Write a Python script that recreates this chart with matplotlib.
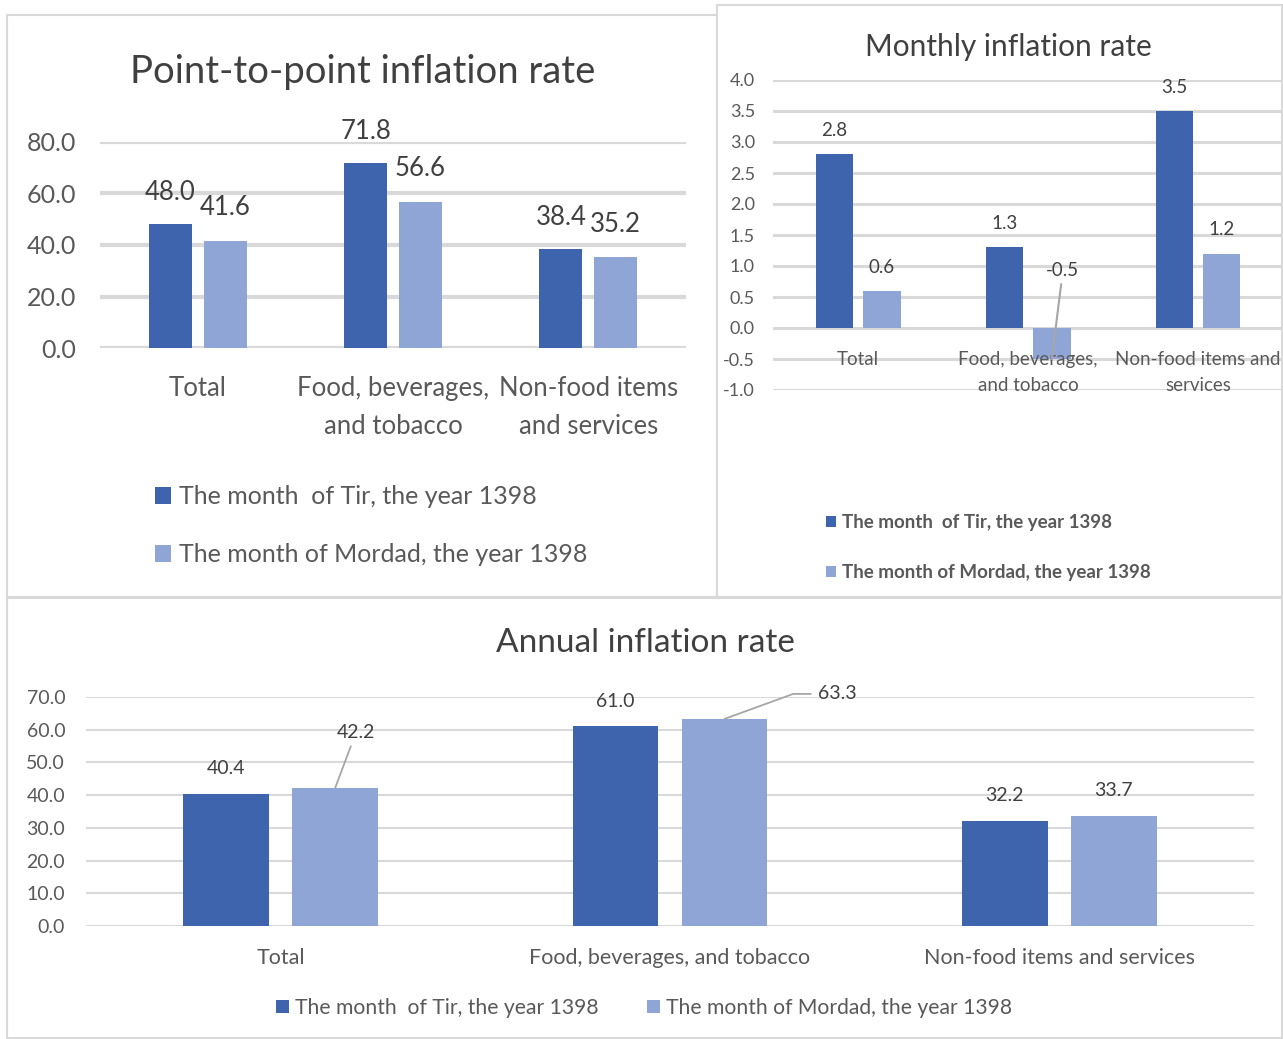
import numpy as np
import matplotlib.pyplot as plt
from matplotlib.patches import Rectangle

W, H = 1283, 1039
DARK = '#3D64AD'
LIGHT = '#8FA5D5'
GRID = '#d9d9d9'
TXT = '#404040'
TICK = '#595959'

# ---------------- data ----------------
categories = ['Total', 'Food, beverages, and tobacco', 'Non-food items and services']
cats_p2p = ['Total', 'Food, beverages,\nand tobacco', 'Non-food items\nand services']
cats_monthly = ['Total', 'Food, beverages,\nand tobacco', 'Non-food items and\nservices']
series = ['The month  of Tir, the year 1398', 'The month of Mordad, the year 1398']

p2p_tir = [48.0, 71.8, 38.4]
p2p_mordad = [41.6, 56.6, 35.2]
monthly_tir = [2.8, 1.3, 3.5]
monthly_mordad = [0.6, -0.5, 1.2]
annual_tir = [40.4, 61.0, 32.2]
annual_mordad = [42.2, 63.3, 33.7]

plt.rcParams['font.family'] = ['Lato', 'DejaVu Sans']

fig = plt.figure(figsize=(W / 100, H / 100), dpi=100)


def axes_px(x0, y0, x1, y1):
    return fig.add_axes([x0 / W, 1 - y1 / H, (x1 - x0) / W, (y1 - y0) / H])


def fx(x):
    return x / W


def fy(y):
    return 1 - y / H


# panel borders
for (x0, y0, x1, y1) in [(7, 15, 717, 597), (717, 5, 1282, 597), (7, 598, 1282, 1038)]:
    fig.add_artist(Rectangle((fx(x0), fy(y1)), fx(x1 - x0), (y1 - y0) / H,
                             transform=fig.transFigure, fill=False,
                             edgecolor=GRID, lw=1.5))


def style_axes(ax, ylim, yticks, grid_lw, tick_fs, pad):
    ax.set_ylim(*ylim)
    ax.set_xlim(-0.5, 2.5)
    ax.set_yticks(yticks)
    ax.set_yticklabels(['%.1f' % v for v in yticks], fontsize=tick_fs, color=TICK)
    ax.tick_params(axis='y', length=0, pad=pad)
    ax.set_axisbelow(True)
    ax.yaxis.grid(True, color=GRID, lw=grid_lw)
    for s in ax.spines.values():
        s.set_visible(False)
    ax.patch.set_alpha(0)


x = np.arange(3)
bw = 0.22
off = 0.14
leg_kw = dict(bbox_transform=fig.transFigure, frameon=False, labelcolor=TICK,
              borderpad=0, borderaxespad=0, handletextpad=0.3)

# ---------------- Point-to-point ----------------
ax1 = axes_px(100, 142, 686, 348)
b1 = ax1.bar(x - off, p2p_tir, bw, color=DARK, label=series[0])
b2 = ax1.bar(x + off, p2p_mordad, bw, color=LIGHT, label=series[1])
style_axes(ax1, (0, 80), np.arange(0, 81, 20), 3.0, 18, 17)
ax1.set_xticks(x)
ax1.set_xticklabels(cats_p2p, fontsize=18.5, color=TICK, linespacing=1.65, va='top')
ax1.tick_params(axis='x', length=0, pad=20)
for xi, v in zip(x - off, p2p_tir):
    ax1.annotate('%.1f' % v, (xi, v), xytext=(0, 23), textcoords='offset points',
                 ha='center', va='center', fontsize=18.5, color=TXT)
for xi, v in zip(x + off, p2p_mordad):
    ax1.annotate('%.1f' % v, (xi, v), xytext=(0, 24), textcoords='offset points',
                 ha='center', va='center', fontsize=18.5, color=TXT)
fig.text(fx(363), fy(72), 'Point-to-point inflation rate', ha='center', va='center',
         fontsize=27.5, color=TXT)
ax1.legend(handles=[b1, b2], loc='upper left', bbox_to_anchor=(fx(155), fy(485)),
           prop={'size': 18}, handlelength=0.65, handleheight=0.65,
           labelspacing=1.42, **leg_kw)

# ---------------- Monthly ----------------
ax2 = axes_px(773, 80, 1283, 390)
c1 = ax2.bar(x - off, monthly_tir, bw, color=DARK, label=series[0])
c2 = ax2.bar(x + off, monthly_mordad, bw, color=LIGHT, label=series[1])
style_axes(ax2, (-1, 4), np.arange(-1, 4.01, 0.5), 2.2, 13, 13)
ax2.set_xticks([])
for xi, lab in zip(x, cats_monthly):
    ax2.text(xi, -0.37, lab, ha='center', va='top', fontsize=13.5, color=TICK,
             linespacing=1.65)
for xi, v in zip(x - off, monthly_tir):
    ax2.annotate('%.1f' % v, (xi, v), xytext=(0, 17), textcoords='offset points',
                 ha='center', va='center', fontsize=13.5, color=TXT)
for xi, v in zip(x + off, monthly_mordad):
    if v < 0:
        ax2.annotate('%.1f' % v, (xi, v), xytext=(8, 64), textcoords='offset points',
                     ha='center', va='center', fontsize=13.5, color=TXT,
                     arrowprops=dict(arrowstyle='-', color='#a6a6a6', lw=1.5,
                                     shrinkA=2, shrinkB=0))
    else:
        ax2.annotate('%.1f' % v, (xi, v), xytext=(0, 17), textcoords='offset points',
                     ha='center', va='center', fontsize=13.5, color=TXT)
fig.text(fx(1008), fy(47), 'Monthly inflation rate', ha='center', va='center',
         fontsize=21.5, color=TXT)
ax2.legend(handles=[c1, c2], loc='upper left', bbox_to_anchor=(fx(826), fy(514)),
           prop={'weight': 'bold', 'size': 13.5}, handlelength=0.55, handleheight=0.55,
           labelspacing=1.75, **leg_kw)

# ---------------- Annual ----------------
ax3 = axes_px(86, 697, 1254, 926)
d1 = ax3.bar(x - off, annual_tir, bw, color=DARK, label=series[0])
d2 = ax3.bar(x + off, annual_mordad, bw, color=LIGHT, label=series[1])
style_axes(ax3, (0, 70), np.arange(0, 71, 10), 1.5, 14, 15)
ax3.set_xticks(x)
ax3.set_xticklabels(categories, fontsize=15.5, color=TICK)
ax3.tick_params(axis='x', length=0, pad=16)
for xi, v in zip(x - off, annual_tir):
    ax3.annotate('%.1f' % v, (xi, v), xytext=(0, 18), textcoords='offset points',
                 ha='center', va='center', fontsize=14, color=TXT)
for i, (xi, v) in enumerate(zip(x + off, annual_mordad)):
    if i == 0:
        ax3.annotate('%.1f' % v, (xi, v), xytext=(15, 40), textcoords='offset points',
                     ha='center', va='center', fontsize=14, color=TXT,
                     arrowprops=dict(arrowstyle='-', color='#a6a6a6', lw=1.3,
                                     shrinkA=2, shrinkB=0))
    elif i == 1:
        ax3.annotate('%.1f' % v, (xi, v), xytext=(81, 18), textcoords='offset points',
                     ha='center', va='center', fontsize=14, color=TXT,
                     arrowprops=dict(arrowstyle='-', color='#a6a6a6', lw=1.3,
                                     shrinkA=3, shrinkB=0,
                                     connectionstyle='angle,angleA=0,angleB=20,rad=0'))
    else:
        ax3.annotate('%.1f' % v, (xi, v), xytext=(0, 18), textcoords='offset points',
                     ha='center', va='center', fontsize=14, color=TXT)
fig.text(fx(645), fy(643), 'Annual inflation rate', ha='center', va='center',
         fontsize=24, color=TXT)
ax3.legend(handles=[d1, d2], loc='center left', bbox_to_anchor=(fx(276), fy(1008)),
           ncol=2, prop={'size': 15.2}, columnspacing=2.3,
           handlelength=0.6, handleheight=0.6, **leg_kw)

fig.savefig('out.png', dpi=100)
